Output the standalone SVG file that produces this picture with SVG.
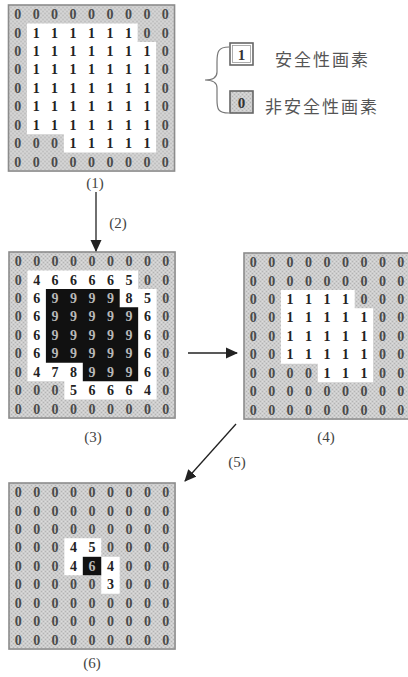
<svg xmlns="http://www.w3.org/2000/svg" width="408" height="677" viewBox="0 0 408 677">
<style>
.bg{fill:url(#dots);stroke:#8c8c8c;stroke-width:1.6}
.wh{fill:#ffffff}
.bk{fill:#111111}
.d{font-family:"Liberation Serif",serif;font-size:14px;font-weight:bold;fill:#4a4a4a;text-anchor:middle}
.o{fill:#222222}
.n{fill:#b8b8b8}
.lab{font-family:"Liberation Serif",serif;font-size:15px;fill:#444;text-anchor:middle}
.cjk{font-family:"Liberation Serif","Noto Sans CJK JP",sans-serif;font-size:17px;fill:#555;letter-spacing:2px}
.ln{stroke:#222;stroke-width:1.3;fill:none}
</style>
<defs>
<pattern id="dots" width="4" height="4" patternUnits="userSpaceOnUse">
<rect width="4" height="4" fill="#cdcdcd"/>
<rect x="0" y="0" width="1" height="1" fill="#b4b4b4"/>
<rect x="2" y="2" width="1" height="1" fill="#b4b4b4"/>
<rect x="2" y="0" width="1" height="1" fill="#dcdcdc"/>
<rect x="0" y="2" width="1" height="1" fill="#dcdcdc"/>
</pattern>
<marker id="ah" markerUnits="userSpaceOnUse" markerWidth="12" markerHeight="12" viewBox="0 0 12 12" refX="11" refY="6" orient="auto">
<path d="M0,0.5 L12,6 L0,11.5 Z" fill="#222"/>
</marker>
</defs>

<g id="grid1" transform="translate(8.5,5)">
<rect class="bg" x="0" y="0" width="166.05" height="166.05"/>
<path class="wh" d="M18.45,18.45 H129.15 V36.9 H147.6 V147.6 H55.35 V129.15 H18.45 Z"/>
<g class="d">
<text y="14" x="9.2 27.7 46.1 64.6 83 101.5 119.9 138.4 156.8">000000000</text>
<text y="32.5"><tspan x="9.2">0</tspan><tspan class="o" x="27.7 46.1 64.6 83 101.5 119.9">111111</tspan><tspan x="138.4 156.8">00</tspan></text>
<text y="50.9"><tspan x="9.2">0</tspan><tspan class="o" x="27.7 46.1 64.6 83 101.5 119.9 138.4">1111111</tspan><tspan x="156.8">0</tspan></text>
<text y="69.4"><tspan x="9.2">0</tspan><tspan class="o" x="27.7 46.1 64.6 83 101.5 119.9 138.4">1111111</tspan><tspan x="156.8">0</tspan></text>
<text y="87.8"><tspan x="9.2">0</tspan><tspan class="o" x="27.7 46.1 64.6 83 101.5 119.9 138.4">1111111</tspan><tspan x="156.8">0</tspan></text>
<text y="106.3"><tspan x="9.2">0</tspan><tspan class="o" x="27.7 46.1 64.6 83 101.5 119.9 138.4">1111111</tspan><tspan x="156.8">0</tspan></text>
<text y="124.7"><tspan x="9.2">0</tspan><tspan class="o" x="27.7 46.1 64.6 83 101.5 119.9 138.4">1111111</tspan><tspan x="156.8">0</tspan></text>
<text y="143.2"><tspan x="9.2 27.7 46.1">000</tspan><tspan class="o" x="64.6 83 101.5 119.9 138.4">11111</tspan><tspan x="156.8">0</tspan></text>
<text y="161.6" x="9.2 27.7 46.1 64.6 83 101.5 119.9 138.4 156.8">000000000</text>
</g>
</g>

<g id="legend">
<path d="M229,47 C218,47 217,52 217,62 L217,72 C217,78 213,80 205,80 C213,80 217,82 217,88 L217,100 C217,109 218,113 229,113" stroke="#777" stroke-width="1.2" fill="none"/>
<rect x="230" y="43" width="23" height="22" fill="#fff" stroke="#666" stroke-width="1.6"/>
<rect x="232.5" y="45.5" width="18" height="17" fill="none" stroke="#999" stroke-width="0.8"/>
<text class="lab" x="241.5" y="59.5" style="font-weight:bold;fill:#333">1</text>
<rect x="230" y="91" width="23" height="22" fill="url(#dots)" stroke="#666" stroke-width="1.6"/>
<text class="lab" x="241.5" y="107.5" style="font-weight:bold;fill:#333">0</text>
<text class="cjk" x="275" y="66">安全性画素</text>
<text class="cjk" x="265" y="113">非安全性画素</text>
</g>

<g id="grid3" transform="translate(9,252)">
<rect class="bg" x="0" y="0" width="166.05" height="166.05"/>
<path class="wh" d="M18.45,18.45 H129.15 V36.9 H147.6 V147.6 H55.35 V129.15 H18.45 Z"/>
<path class="bk" d="M36.9,36.9 H110.7 V55.35 H129.15 V129.15 H73.8 V110.7 H36.9 Z"/>
<g class="d">
<text y="14" x="9.2 27.7 46.1 64.6 83 101.5 119.9 138.4 156.8">000000000</text>
<text y="32.5"><tspan x="9.2">0</tspan><tspan class="o" x="27.7 46.1 64.6 83 101.5 119.9">466665</tspan><tspan x="138.4 156.8">00</tspan></text>
<text y="50.9"><tspan x="9.2">0</tspan><tspan class="o" x="27.7">6</tspan><tspan class="n" x="46.1 64.6 83 101.5">9999</tspan><tspan class="o" x="119.9 138.4">85</tspan><tspan x="156.8">0</tspan></text>
<text y="69.4"><tspan x="9.2">0</tspan><tspan class="o" x="27.7">6</tspan><tspan class="n" x="46.1 64.6 83 101.5 119.9">99999</tspan><tspan class="o" x="138.4">6</tspan><tspan x="156.8">0</tspan></text>
<text y="87.8"><tspan x="9.2">0</tspan><tspan class="o" x="27.7">6</tspan><tspan class="n" x="46.1 64.6 83 101.5 119.9">99999</tspan><tspan class="o" x="138.4">6</tspan><tspan x="156.8">0</tspan></text>
<text y="106.3"><tspan x="9.2">0</tspan><tspan class="o" x="27.7">6</tspan><tspan class="n" x="46.1 64.6 83 101.5 119.9">99999</tspan><tspan class="o" x="138.4">6</tspan><tspan x="156.8">0</tspan></text>
<text y="124.7"><tspan x="9.2">0</tspan><tspan class="o" x="27.7 46.1 64.6">478</tspan><tspan class="n" x="83 101.5 119.9">999</tspan><tspan class="o" x="138.4">6</tspan><tspan x="156.8">0</tspan></text>
<text y="143.2"><tspan x="9.2 27.7 46.1">000</tspan><tspan class="o" x="64.6 83 101.5 119.9 138.4">56664</tspan><tspan x="156.8">0</tspan></text>
<text y="161.6" x="9.2 27.7 46.1 64.6 83 101.5 119.9 138.4 156.8">000000000</text>
</g>
</g>

<g id="grid4" transform="translate(244,253)">
<rect class="bg" x="0" y="0" width="166.05" height="166.05"/>
<path class="wh" d="M36.9,36.9 H110.7 V55.35 H129.15 V129.15 H73.8 V110.7 H36.9 Z"/>
<g class="d">
<text y="14" x="9.2 27.7 46.1 64.6 83 101.5 119.9 138.4 156.8">000000000</text>
<text y="32.5" x="9.2 27.7 46.1 64.6 83 101.5 119.9 138.4 156.8">000000000</text>
<text y="50.9"><tspan x="9.2 27.7">00</tspan><tspan class="o" x="46.1 64.6 83 101.5">1111</tspan><tspan x="119.9 138.4 156.8">000</tspan></text>
<text y="69.4"><tspan x="9.2 27.7">00</tspan><tspan class="o" x="46.1 64.6 83 101.5 119.9">11111</tspan><tspan x="138.4 156.8">00</tspan></text>
<text y="87.8"><tspan x="9.2 27.7">00</tspan><tspan class="o" x="46.1 64.6 83 101.5 119.9">11111</tspan><tspan x="138.4 156.8">00</tspan></text>
<text y="106.3"><tspan x="9.2 27.7">00</tspan><tspan class="o" x="46.1 64.6 83 101.5 119.9">11111</tspan><tspan x="138.4 156.8">00</tspan></text>
<text y="124.7"><tspan x="9.2 27.7 46.1 64.6">0000</tspan><tspan class="o" x="83 101.5 119.9">111</tspan><tspan x="138.4 156.8">00</tspan></text>
<text y="143.2" x="9.2 27.7 46.1 64.6 83 101.5 119.9 138.4 156.8">000000000</text>
<text y="161.6" x="9.2 27.7 46.1 64.6 83 101.5 119.9 138.4 156.8">000000000</text>
</g>
</g>

<g id="grid6" transform="translate(9,483)">
<rect class="bg" x="0" y="0" width="166.05" height="166.05"/>
<path class="wh" d="M55.35,55.35 H92.25 V73.8 H110.7 V110.7 H92.25 V92.25 H55.35 Z"/>
<rect class="bk" x="73.8" y="73.8" width="18.45" height="18.45"/>
<g class="d">
<text y="14" x="9.2 27.7 46.1 64.6 83 101.5 119.9 138.4 156.8">000000000</text>
<text y="32.5" x="9.2 27.7 46.1 64.6 83 101.5 119.9 138.4 156.8">000000000</text>
<text y="50.9" x="9.2 27.7 46.1 64.6 83 101.5 119.9 138.4 156.8">000000000</text>
<text y="69.4"><tspan x="9.2 27.7 46.1">000</tspan><tspan class="o" x="64.6 83">45</tspan><tspan x="101.5 119.9 138.4 156.8">0000</tspan></text>
<text y="87.8"><tspan x="9.2 27.7 46.1">000</tspan><tspan class="o" x="64.6">4</tspan><tspan class="n" x="83">6</tspan><tspan class="o" x="101.5">4</tspan><tspan x="119.9 138.4 156.8">000</tspan></text>
<text y="106.3"><tspan x="9.2 27.7 46.1 64.6 83">00000</tspan><tspan class="o" x="101.5">3</tspan><tspan x="119.9 138.4 156.8">000</tspan></text>
<text y="124.7" x="9.2 27.7 46.1 64.6 83 101.5 119.9 138.4 156.8">000000000</text>
<text y="143.2" x="9.2 27.7 46.1 64.6 83 101.5 119.9 138.4 156.8">000000000</text>
<text y="161.6" x="9.2 27.7 46.1 64.6 83 101.5 119.9 138.4 156.8">000000000</text>
</g>
</g>

<g id="connectors">
<line class="ln" x1="96" y1="192" x2="96" y2="251" marker-end="url(#ah)"/>
<line class="ln" x1="188" y1="353" x2="237" y2="353" marker-end="url(#ah)"/>
<line class="ln" x1="236" y1="424" x2="185" y2="481" marker-end="url(#ah)"/>
</g>

<g id="labels">
<text class="lab" x="95" y="188">(1)</text>
<text class="lab" x="118" y="228">(2)</text>
<text class="lab" x="93" y="442">(3)</text>
<text class="lab" x="326" y="442">(4)</text>
<text class="lab" x="237" y="467">(5)</text>
<text class="lab" x="92" y="668">(6)</text>
</g>
</svg>
